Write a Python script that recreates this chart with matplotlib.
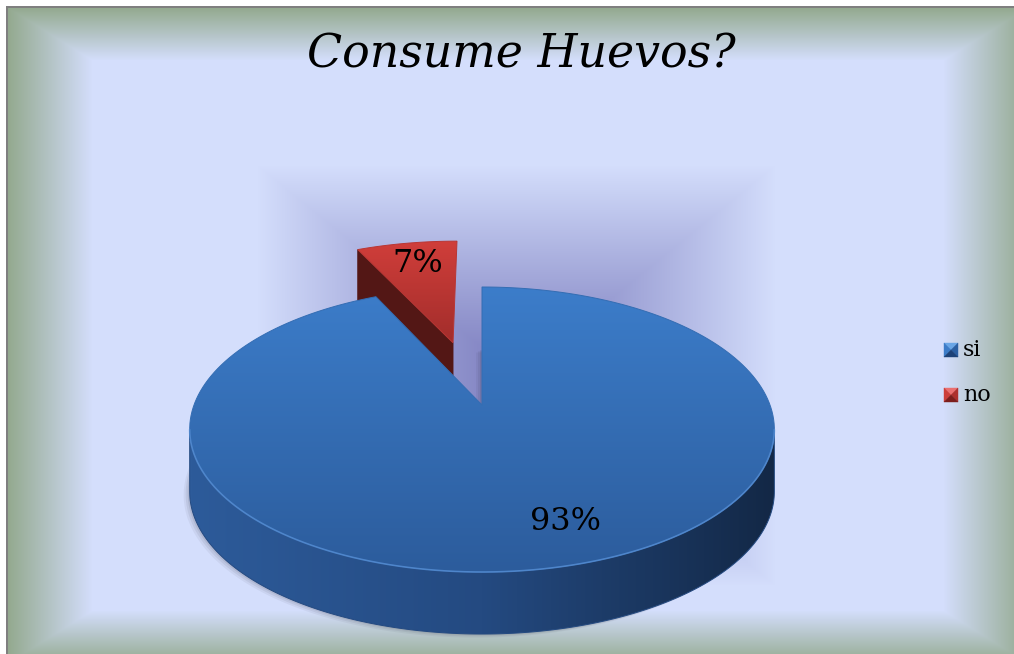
import numpy as np
import matplotlib
matplotlib.use('Agg')
import matplotlib.pyplot as plt
from matplotlib.patches import Polygon
from matplotlib.colors import to_rgb

# survey answers
labels = ['si', 'no']
values = [93, 7]
explode = [0.0, 0.5]

W, H = 1014, 654

# projected pie geometry (pixels)
CX, CY = 482.0, 405.0
RX, RY = 288.0, 138.3
PERSP = 0.172
DEPTH = 62.0

top_cols = [('#3c7dca', '#2c5c9c'), ('#d03e3a', '#a22d2b')]
cut_cols = ['#26477a', '#531715']
side_cols = [['#2d5b9a', '#244a81', '#132846'], ['#8a2220', '#6a1a18']]
mark_cols = [('#6aa6e6', '#3c7cc8', '#2b5fa2', '#1d4278'),
             ('#ea7070', '#cc3e3a', '#ad302d', '#7c1e1c')]


def proj(u, v, drop=0.0):
    w = 1 + PERSP * v
    return CX + RX * u / w, CY - RY * v / w + drop


def arc(t0, t1, ox, oy, drop=0.0, n=200):
    t = np.radians(np.linspace(t0, t1, n))
    return proj(ox + np.cos(t), oy + np.sin(t), drop)


def lerp_stops(stops, t):
    stops = np.array([to_rgb(c) for c in stops])
    pos = np.linspace(0, 1, len(stops))
    return np.stack([np.interp(t, pos, stops[:, i]) for i in range(3)], axis=-1)


def shade(ax, xs, ys, stops, axis='y', z=2):
    poly = Polygon(np.column_stack([xs, ys]), closed=True, facecolor='none',
                   edgecolor='none', zorder=z)
    ax.add_patch(poly)
    x0, x1 = xs.min(), xs.max()
    y0, y1 = ys.min(), ys.max()
    t = np.linspace(0, 1, 128)
    cols = lerp_stops(stops, t)
    img = cols[:, None, :] if axis == 'y' else cols[None, :, :]
    im = ax.imshow(img, extent=(x0, x1, y1, y0), interpolation='bilinear',
                   zorder=z, aspect='auto')
    im.set_clip_path(poly)
    # soft outline so the clipped edge is not jagged
    mid = lerp_stops(stops, np.array([0.5]))[0]
    ax.add_patch(Polygon(np.column_stack([xs, ys]), closed=True, facecolor='none',
                         edgecolor=mid, lw=0.7, zorder=z))


# ---- background: framed path gradient + hazy plot area ----
yy, xx = np.mgrid[0:H, 0:W].astype(float)
dx = np.minimum(xx - 7, 1028 - xx)
dy = np.minimum(yy - 7, 663 - yy)
t = np.clip(np.minimum(dx / 85.0, dy / 53.0), 0, 1)
edge = np.array(to_rgb('#93a98e'))
inner = np.array(to_rgb('#d4defc'))
bg = edge * (1 - t[..., None]) + inner * t[..., None]

hx0, hx1, hy0, hy1 = 257.0, 775.0, 165.0, 585.0
hcx, hcy = (hx0 + hx1) / 2, (hy0 + hy1) / 2
th = np.maximum(np.abs(xx - hcx) / ((hx1 - hx0) / 2), np.abs(yy - hcy) / ((hy1 - hy0) / 2))
inside = th < 1
f = np.clip(th, 0, 1) ** 1.1
haze_c = np.array(to_rgb('#7d7ebf'))
haze = haze_c * (1 - f[..., None]) + inner * f[..., None]
bg[inside] = haze[inside]
bg[(xx < 6) | (yy < 6)] = 1.0
bg[((xx >= 6) & (xx < 8) & (yy >= 6)) | ((yy >= 6) & (yy < 8) & (xx >= 6))] = 0.5

fig = plt.figure(figsize=(W / 100, H / 100), dpi=100)
ax = fig.add_axes([0, 0, 1, 1])
ax.imshow(bg, extent=(0, W, H, 0), interpolation='bilinear', zorder=0)

# ---- slices ----
fracs = np.array(values, dtype=float) / sum(values)
starts = 90 - 360 * np.concatenate([[0], np.cumsum(fracs)[:-1]])
ends = starts - 360 * fracs
mids = (starts + ends) / 2
order = np.argsort(-np.sin(np.radians(mids)))   # far slices first

vis0, vis1 = 180 + np.degrees(np.arcsin(PERSP)), 360 - np.degrees(np.arcsin(PERSP))

for z, i in enumerate(order):
    zz = 3 + z * 5
    m = np.radians(mids[i])
    ox, oy = explode[i] * np.cos(m), explode[i] * np.sin(m)
    s, e = starts[i], ends[i]
    lo, hi = min(s, e), max(s, e)

    # soft shadow
    sx, sy = arc(s, e, ox, oy, DEPTH)
    cx0, cy0 = proj(ox, oy, DEPTH)
    for k, a in ((6, 0.06), (4, 0.08), (2, 0.10)):
        ax.add_patch(Polygon(np.column_stack([np.r_[cx0, sx] - k, np.r_[cy0, sy] + k * 0.6]),
                             closed=True, facecolor='#303040', edgecolor='none',
                             alpha=a, zorder=zz))

    # outer wall, only the part that faces the viewer
    for off in (-360, 0, 360):
        a0, a1 = max(lo, vis0 + off), min(hi, vis1 + off)
        if a1 > a0:
            tx, ty = arc(a0, a1, ox, oy)
            bx, by = arc(a1, a0, ox, oy, DEPTH)
            shade(ax, np.r_[tx, bx], np.r_[ty, by], side_cols[i], axis='x', z=zz + 1)

    # radial cut faces that face the viewer
    for ang, sign in ((s, 1), (e, -1)):
        r = np.radians(ang)
        if sign * np.cos(r) < -0.01:
            px, py = proj(ox, oy)
            qx, qy = proj(ox + np.cos(r), oy + np.sin(r))
            ax.add_patch(Polygon([[px, py], [qx, qy], [qx, qy + DEPTH], [px, py + DEPTH]],
                                 closed=True, facecolor=cut_cols[i], edgecolor=cut_cols[i],
                                 lw=0.6, zorder=zz + 2))

    # top face
    tx, ty = arc(s, e, ox, oy)
    px, py = proj(ox, oy)
    shade(ax, np.r_[px, tx], np.r_[py, ty], top_cols[i], axis='y', z=zz + 3)

    # light rim on the near edge of the top
    for off in (-360, 0):
        a0, a1 = max(lo, vis0 + off), min(hi, vis1 + off)
        if a1 > a0:
            rx_, ry_ = arc(a0, a1, ox, oy)
            ax.plot(rx_, ry_, color='#5a92d8', lw=1.2, alpha=0.7, zorder=zz + 4,
                    solid_capstyle='round')

# ---- percentage labels ----
label_pos = [(566, 521), (418, 264)]
for i, (lx, ly) in enumerate(label_pos):
    ax.text(lx, ly, f'{values[i]:.0f}%', fontsize=23, family='DejaVu Serif',
            ha='center', va='center', color='black', zorder=30)

# ---- title ----
ax.text(521, 55, 'Consume Huevos?', fontsize=33, family='DejaVu Serif',
        style='italic', ha='center', va='center', color='black', zorder=30)

# ---- legend ----
for i, lab in enumerate(labels):
    y0 = 343 + i * 45
    x0, sz = 944, 14
    c = (x0 + sz / 2, y0 + sz / 2)
    tl, tr, br, bl = (x0, y0), (x0 + sz, y0), (x0 + sz, y0 + sz), (x0, y0 + sz)
    light, left, right, dark = mark_cols[i]
    for pts, col in (([tl, tr, c], light), ([tl, bl, c], left),
                     ([tr, br, c], right), ([bl, br, c], dark)):
        ax.add_patch(Polygon(pts, closed=True, facecolor=col, edgecolor=col,
                             lw=0.3, zorder=30))
    ax.text(x0 + sz + 5, y0 + sz / 2, lab, fontsize=16, family='DejaVu Serif',
            ha='left', va='center', color='black', zorder=30)

ax.set_xlim(0, W)
ax.set_ylim(H, 0)
ax.axis('off')
fig.savefig('out.png', dpi=100)
